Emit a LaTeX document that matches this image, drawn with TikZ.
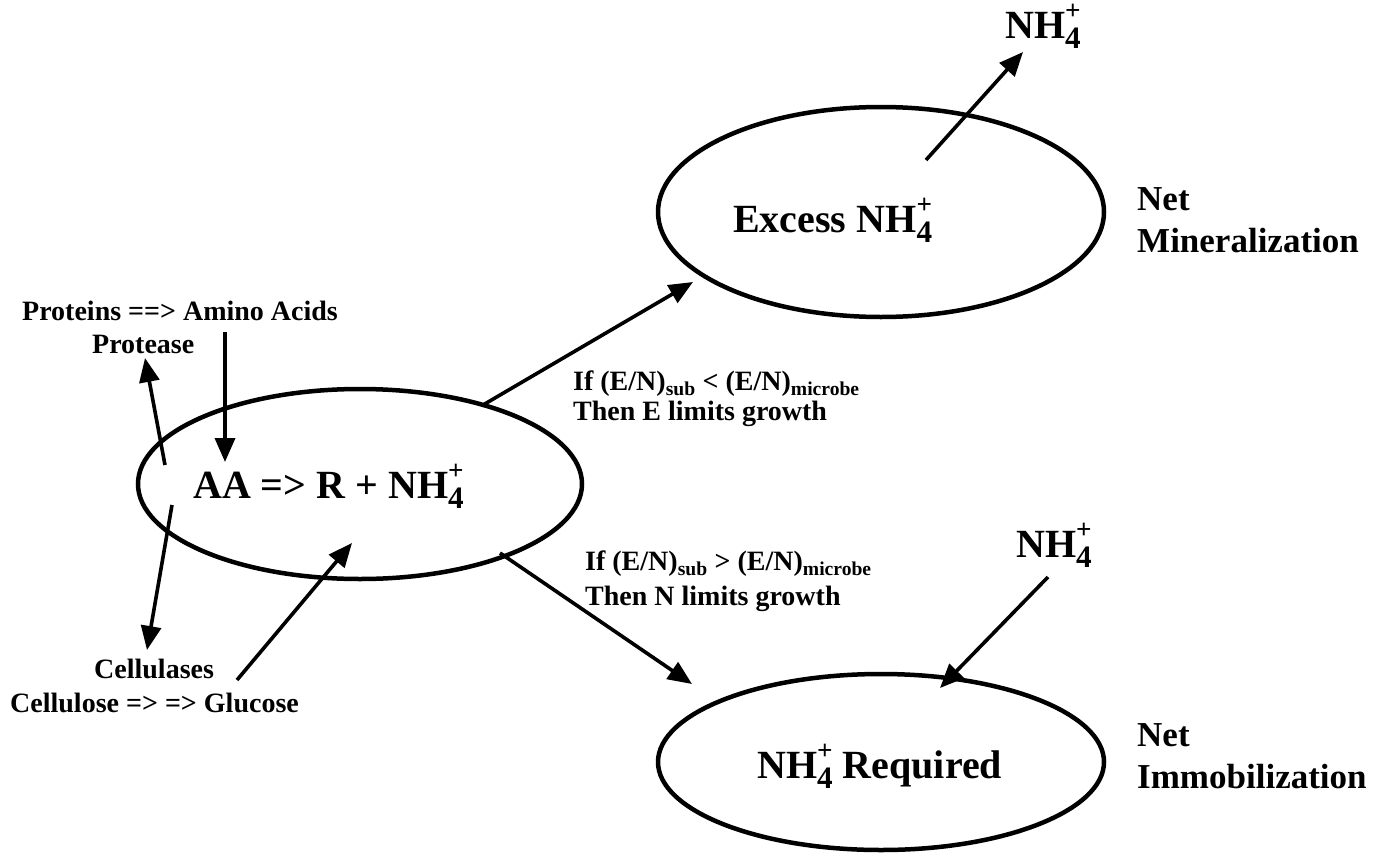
\documentclass[tikz,border=0pt]{standalone}
\usepackage{graphicx}
\usepackage{fontspec}
\setmainfont{Liberation Serif}
\usetikzlibrary{shapes.geometric,arrows.meta}

% NH4+ with the charge stacked over the subscript
\newcommand{\ammon}{NH\rlap{\raisebox{0.46em}{\scalebox{0.68}{+}}}\raisebox{-0.26em}{\scalebox{0.78}{4}}}

\tikzset{
  pool/.style={ellipse, draw, line width=4.5pt, inner sep=0pt},
  lbl/.style={font=\bfseries\fontsize{28}{32}\selectfont, inner sep=0pt, anchor=base west},
  cond/.style={font=\bfseries\fontsize{28}{30}\selectfont, inner sep=0pt, anchor=base west, align=left},
  biglbl/.style={font=\bfseries\fontsize{40}{44}\selectfont, inner sep=0pt, anchor=base west},
  sidelbl/.style={font=\bfseries\fontsize{35}{42}\selectfont, inner sep=0pt, anchor=base west, align=left},
  flow/.style={line width=3.6pt, -{Triangle[length=24pt,width=20pt]}},
}

\begin{document}
\begin{tikzpicture}[x=1pt,y=-1pt]
  \useasboundingbox[fill=white] (0,0) rectangle (1389,854);

  % the three pools
  \node[pool, minimum width=444pt, minimum height=190pt] (aa) at (360,484) {};
  \node[pool, minimum width=446pt, minimum height=210pt] (excess) at (881,212) {};
  \node[pool, minimum width=446pt, minimum height=176pt] (req) at (881,762) {};

  % pool contents
  \node[biglbl] (aatxt) at (193,498) {AA => R + \ammon};
  \node[biglbl] (extxt) at (733,232) {Excess \ammon};
  \node[biglbl] (reqtxt) at (757,778) {\ammon\ Required};

  % external ammonium
  \node[biglbl] (nhtop) at (1005,38) {\ammon};
  \node[biglbl] (nhlow) at (1016,557) {\ammon};

  % outcome labels (anchored on the last line)
  \node[sidelbl] (netmin) at (1137,252) {Net\\Mineralization};
  \node[sidelbl] (netimm) at (1137,788) {Net\\Immobilization};

  % substrate and enzyme labels
  \node[lbl] (prot) at (22,320) {Proteins ==> Amino Acids};
  \node[lbl] (protease) at (92,353) {Protease};
  \node[lbl] (cellase) at (94,678) {Cellulases};
  \node[lbl] (cellose) at (10,712) {Cellulose => => Glucose};

  % branch conditions (anchored on the last line)
  \node[cond] (condE) at (573,420)
    {If (E/N)\textsubscript{sub} < (E/N)\textsubscript{microbe}\\Then E limits growth};
  \node[cond] (condN) at (585,605)
    {If (E/N)\textsubscript{sub} > (E/N)\textsubscript{microbe}\\[5pt]Then N limits growth};

  % connector end points
  \coordinate (aminoS) at (225,332);
  \coordinate (aminoE) at (225,462);
  \coordinate (proteaseS) at (165,465);
  \coordinate (proteaseE) at (145,358);
  \coordinate (cellaseS) at (172,505);
  \coordinate (cellaseE) at (147,650);
  \coordinate (glucS) at (237,680);
  \coordinate (glucE) at (352,543);
  \coordinate (upS) at (483,405);
  \coordinate (upE) at (693,282);
  \coordinate (dnS) at (500,553);
  \coordinate (dnE) at (692,684);
  \coordinate (outS) at (926,160);
  \coordinate (outE) at (1023,52);
  \coordinate (inS) at (1048,577);
  \coordinate (inE) at (940,688);

  % flows
  \draw[flow] (aminoS) -- (aminoE);
  \draw[flow] (proteaseS) -- (proteaseE);
  \draw[flow] (cellaseS) -- (cellaseE);
  \draw[flow] (glucS) -- (glucE);
  \draw[flow] (upS) -- (upE);
  \draw[flow] (dnS) -- (dnE);
  \draw[flow] (outS) -- (outE);
  \draw[flow] (inS) -- (inE);
\end{tikzpicture}
\end{document}
